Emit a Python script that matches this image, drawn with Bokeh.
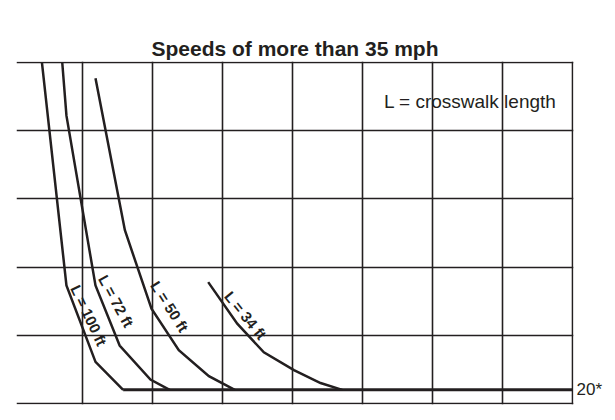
from bokeh.plotting import figure
from bokeh.models import (ColumnDataSource, FixedTicker, Grid, LinearAxis, Title,
                          Range1d)
from bokeh.embed import file_html
from bokeh.resources import INLINE
from bokeh.core.properties import value

# Pedestrian volume thresholds (pedestrians per hour) against major-street
# traffic (vehicles per hour), one curve per crosswalk length.
crosswalk_labels = ["L = 100 ft", "L = 72 ft", "L = 50 ft", "L = 34 ft"]

vph_100 = [85, 155, 238, 317]
pph_100 = [500, 173, 61, 20]

vph_72 = [143, 155, 238, 307, 395, 450]
pph_72 = [500, 422, 173, 85, 35, 20]

vph_50 = [238, 322, 398, 476, 562, 636]
pph_50 = [477, 254, 139, 78, 40, 20]

vph_34 = [560, 643, 719, 805, 881, 943]
pph_34 = [178, 117, 75, 49, 30, 20]

min_pph = 20
vph_max = 1600
vph_ticks = [200, 400, 600, 800, 1000, 1200, 1400, 1600]
pph_ticks = [0, 100, 200, 300, 400, 500]

INK = "#231f20"
FONT = "Liberation Sans"

p = figure(width=615, height=420, output_backend="svg", toolbar_location=None,
           x_axis_type=None, y_axis_type=None,
           x_range=Range1d(12.3, 1603.7), y_range=Range1d(-1.5, 501.5),
           min_border_left=16, min_border_right=42,
           min_border_top=61, min_border_bottom=16)
p.outline_line_color = None
p.background_fill_color = "white"
p.border_fill_color = "white"

for dim, ticks in ((0, vph_ticks), (1, pph_ticks)):
    g = Grid(dimension=dim, ticker=FixedTicker(ticks=ticks),
             grid_line_color=INK, grid_line_width=1.6)
    p.add_layout(g)

# minimum threshold line
p.line([vph_100[-1], vph_max], [min_pph, min_pph], line_color=INK,
       line_width=3)

curves = [(vph_100, pph_100), (vph_72, pph_72), (vph_50, pph_50), (vph_34, pph_34)]
for xs, ys in curves:
    p.line(xs, ys, line_color=INK, line_width=2.5, line_join="miter")

# curve labels, written along each curve
label_x = [219, 297, 450, 667]
label_y = [129, 150, 142, 129]
label_deg = [-64.7, -61.5, -57.5, -50.9]
src = ColumnDataSource(dict(x=label_x, y=label_y, text=crosswalk_labels,
                            angle=[d * 3.14159265 / 180 for d in label_deg]))
p.text("x", "y", text="text", angle="angle", source=src,
       text_font=value(FONT), text_font_style="bold", text_font_size="15px",
       text_color=INK, text_align="center", text_baseline="middle")

p.text([1062], [443], text=["L = crosswalk length"], text_font=value(FONT),
       text_font_size="19px", text_color=INK, text_align="left",
       text_baseline="middle")

# "20*" marker at the right edge
ax = LinearAxis(ticker=FixedTicker(ticks=[min_pph]),
                major_label_overrides={min_pph: "20*"},
                axis_line_color=None, major_tick_line_color=None,
                minor_tick_line_color=None, major_tick_in=0, major_tick_out=0,
                major_label_standoff=3,
                major_label_text_font=FONT, major_label_text_font_size="17px",
                major_label_text_color=INK)
p.add_layout(ax, "right")

p.add_layout(Title(text="Speeds of more than 35 mph", align="center",
                   text_font=FONT, text_font_style="bold",
                   text_font_size="21px", text_color=INK, standoff=4),
             "above")

open("out.html", "w").write(file_html(p, INLINE))
